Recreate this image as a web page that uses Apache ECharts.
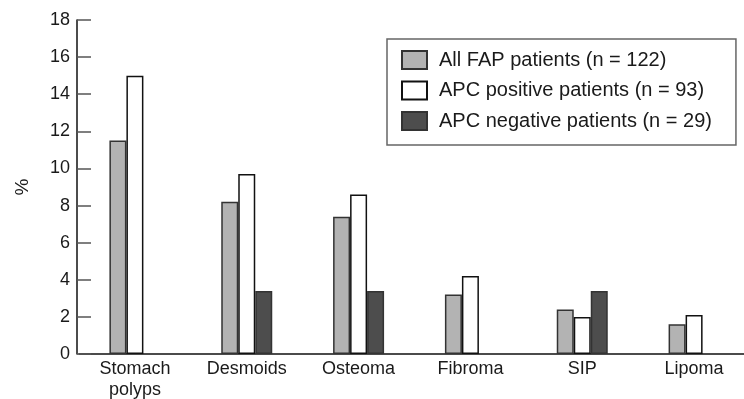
<!DOCTYPE html>
<html>
<head>
<meta charset="utf-8">
<script src="https://cdn.jsdelivr.net/npm/echarts@6/dist/echarts.min.js"></script>
<style>
  html, body { margin: 0; padding: 0; background: #fff; }
  #chart { width: 744px; height: 399px; }
</style>
</head>
<body>
<div id="chart"></div>
<script>
// 类目与数值
const categories = ['Stomach\npolyps', 'Desmoids', 'Osteoma', 'Fibroma', 'SIP', 'Lipoma']
const allFap = [11.5, 8.2, 7.4, 3.2, 2.4, 1.6]
const apcPositive = [15.0, 9.7, 8.6, 4.2, 2.0, 2.1]
const apcNegative = [null, 3.4, 3.4, null, 3.4, null]
const yTicks = [0, 2, 4, 6, 8, 10, 12, 14, 16, 18]

const seriesNames = ['All FAP patients (n = 122)', 'APC positive patients (n = 93)', 'APC negative patients (n = 29)']
const fontFamily = '"Liberation Sans", Arial, sans-serif'

const chart = echarts.init(document.getElementById('chart'))

function barSeries(name, data, fill, border) {
  return {
    name: name,
    type: 'bar',
    data: data,
    barWidth: 17,
    barGap: '0%',
    itemStyle: {
      color: fill,
      borderColor: border,
      borderWidth: 1.5
    }
  }
}

chart.setOption({
  animation: false,
  textStyle: { fontFamily: fontFamily },
  grid: {
    left: 79,
    right: -6,
    top: 20,
    bottom: 45,
    outerBoundsMode: 'none'
  },
  legend: {
    orient: 'vertical',
    left: 387,
    top: 39,
    itemWidth: 25,
    itemHeight: 18,
    itemGap: 10.5,
    padding: [11, 24, 14, 14],
    borderColor: '#666',
    borderWidth: 1.5,
    icon: 'rect',
    selectedMode: false,
    textStyle: {
      color: '#1a1a1a',
      fontSize: 20,
      lineHeight: 18,
      padding: [0, 0, 0, 7],
      fontFamily: fontFamily
    },
    data: seriesNames
  },
  xAxis: {
    type: 'category',
    data: categories,
    axisLine: { lineStyle: { color: '#111', width: 1.5 } },
    axisTick: {
      inside: true,
      length: 14,
      lineStyle: { color: '#555', width: 1.5 }
    },
    axisLabel: {
      color: '#1a1a1a',
      fontSize: 18,
      lineHeight: 21,
      margin: 5,
      interval: 0
    }
  },
  yAxis: {
    type: 'value',
    offset: 2,
    min: 0,
    max: yTicks[yTicks.length - 1],
    interval: yTicks[1] - yTicks[0],
    name: '%',
    nameLocation: 'middle',
    nameGap: 45,
    nameRotate: 90,
    nameTextStyle: { color: '#1a1a1a', fontSize: 19 },
    axisLine: { show: true, lineStyle: { color: '#111', width: 1.5 } },
    axisTick: {
      show: true,
      inside: true,
      length: 14,
      lineStyle: { color: '#555', width: 1.5 }
    },
    axisLabel: {
      color: '#1a1a1a',
      fontSize: 18,
      margin: 7
    },
    splitLine: { show: false }
  },
  series: [
    barSeries(seriesNames[0], allFap, '#b3b3b3', '#333'),
    barSeries(seriesNames[1], apcPositive, '#ffffff', '#111'),
    barSeries(seriesNames[2], apcNegative, '#4d4d4d', '#333')
  ]
})
</script>
</body>
</html>
